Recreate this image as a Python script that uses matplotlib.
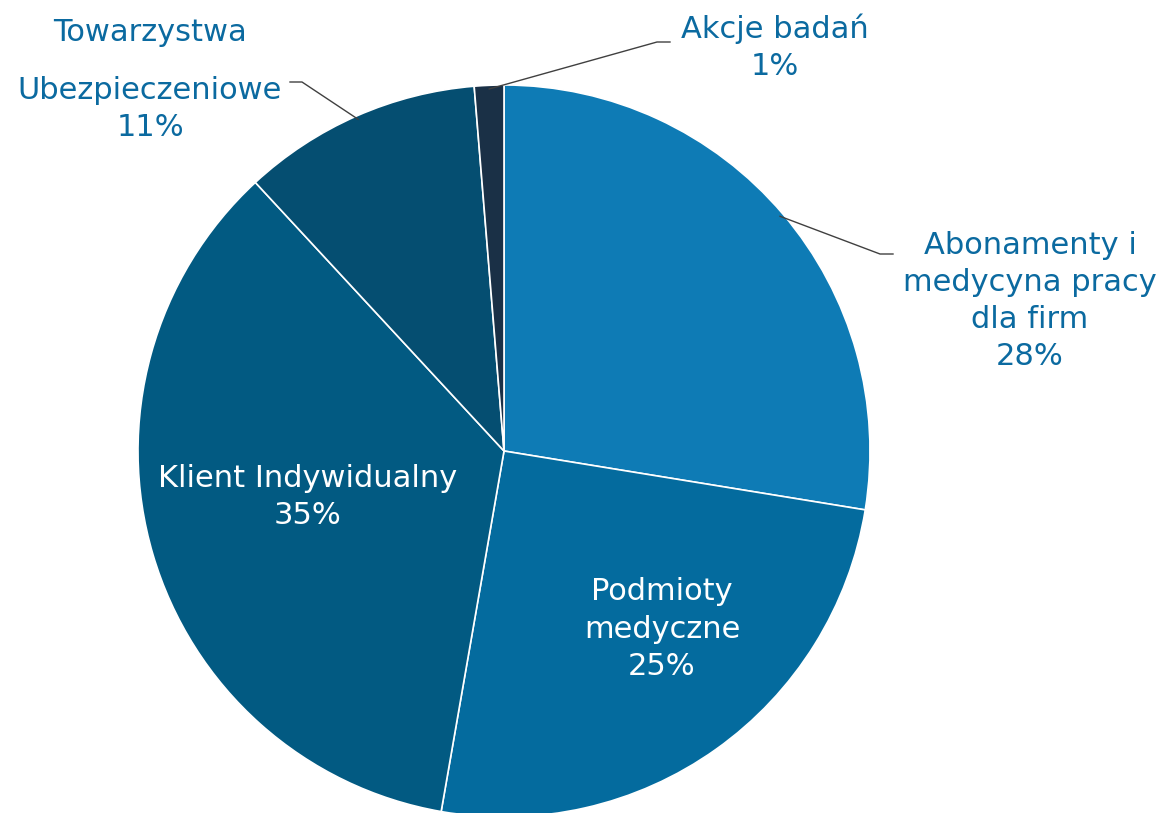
import numpy as np
import matplotlib
matplotlib.use("Agg")
import matplotlib.pyplot as plt

# Data (share of revenue)
categories = ["Abonamenty i\nmedycyna pracy\ndla firm", "Podmioty\nmedyczne",
              "Klient Indywidualny", "Towarzystwa\nUbezpieczeniowe", "Akcje badań"]
values = [27.6, 25.2, 35.4, 10.6, 1.3]
colors = ["#0E7BB5", "#046B9E", "#025A82", "#054E71", "#1A3046"]

W, H = 1164, 813
fig = plt.figure(figsize=(W / 100, H / 100), dpi=100)
ax = fig.add_axes([0, 0, 1, 1])

cx, cy, r = 504, H - 451, 366
wedges, _ = ax.pie(values, colors=colors, startangle=90, counterclock=False,
                   center=(cx, cy), radius=r, frame=True,
                   wedgeprops=dict(edgecolor="white", linewidth=1.2))
ax.set_xlim(0, W)
ax.set_ylim(0, H)
ax.set_aspect("equal")
ax.axis("off")

pct = [f"{v:.0f}%" for v in values]
out_col = "#0B6AA0"
fs = 22
ls = 1.35


def edge_point(w, frac=1.0):
    ang = np.deg2rad((w.theta1 + w.theta2) / 2)
    return cx + r * frac * np.cos(ang), cy + r * frac * np.sin(ang)


# inside labels
ax.text(308, H - 497, f"{categories[2]}\n{pct[2]}", ha="center", va="center",
        color="white", fontsize=fs, linespacing=ls)
ax.text(662, H - 629, f"{categories[1]}\n{pct[1]}", ha="center", va="center",
        color="white", fontsize=fs, linespacing=ls)

# outside labels with leader lines
ax.text(1030, H - 301, f"{categories[0]}\n{pct[0]}", ha="center", va="center",
        color=out_col, fontsize=fs, linespacing=ls)
px, py = edge_point(wedges[0], 0.99)
ax.plot([px, 880, 893], [py, H - 254, H - 254], color="#404040", lw=1)

ax.text(775, H - 47, f"{categories[4]}\n{pct[4]}", ha="center", va="center",
        color=out_col, fontsize=fs, linespacing=ls)
px, py = edge_point(wedges[4], 0.99)
ax.plot([px, 657, 670], [py, H - 42, H - 42], color="#404040", lw=1)

top, bottom = categories[3].split("\n")
ax.text(150, H - 33, top, ha="center", va="center", color=out_col, fontsize=fs)
ax.text(150, H - 109, f"{bottom}\n{pct[3]}", ha="center", va="center",
        color=out_col, fontsize=fs, linespacing=ls)
px, py = edge_point(wedges[3], 0.99)
ax.plot([px, 302, 290], [py, H - 82, H - 82], color="#404040", lw=1)

fig.savefig("out.png", dpi=100, facecolor="white")
